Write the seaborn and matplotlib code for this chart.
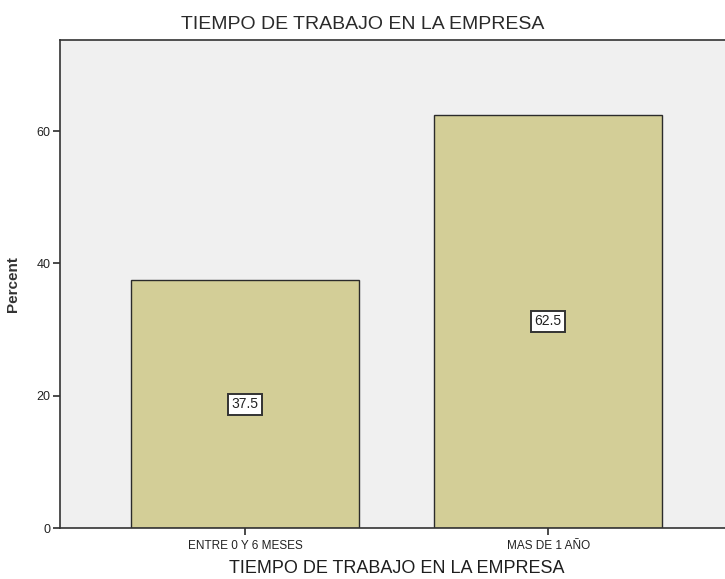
import pandas as pd
import seaborn as sns
import matplotlib.pyplot as plt

categories = ["ENTRE 0 Y 6 MESES", "MAS DE 1 AÑO"]
percents = [37.5, 62.5]
yticks = [0, 20, 40, 60]

df = pd.DataFrame({"Tiempo": categories, "Percent": percents})

sns.set_theme(style="ticks", rc={"axes.facecolor": "#f0f0f0", "figure.facecolor": "white"})
plt.rcParams["font.family"] = ["Liberation Sans", "DejaVu Sans"]

fig = plt.figure(figsize=(7.25, 5.79), dpi=100)
# plot area runs past the right edge, as in the original export
ax = fig.add_axes([0.083, 0.088, 0.928, 0.843])

sns.barplot(data=df, x="Tiempo", y="Percent", color="#d3ce97", width=0.75,
            edgecolor="#2b2b2b", linewidth=1.0, saturation=1, ax=ax)

for i, v in enumerate(percents):
    ax.text(i, v / 2, f"{v}", ha="center", va="center", fontsize=10, color="#222222",
            bbox=dict(boxstyle="square,pad=0.25", facecolor="white", edgecolor="#333333", linewidth=1.4))

ax.set_xlim(-0.61, 1.61)
ax.set_ylim(0, 73.8)
ax.set_yticks(yticks)
ax.set_yticklabels([str(t) for t in yticks], fontsize=9, color="#222222")
ax.tick_params(axis="x", labelsize=8.5, labelcolor="#222222", length=5, color="#333333")
ax.tick_params(axis="y", length=5, color="#333333", pad=2)
for side in ["left", "bottom", "top"]:
    ax.spines[side].set_color("#333333")
    ax.spines[side].set_linewidth(1.2)
ax.spines["right"].set_visible(False)

ax.set_xlabel("TIEMPO DE TRABAJO EN LA EMPRESA", fontsize=13, color="#1e1e1e", labelpad=6)
ax.set_ylabel("Percent", fontsize=11, fontweight="bold", color="#333333", labelpad=12)
fig.text(0.5, 0.957, "TIEMPO DE TRABAJO EN LA EMPRESA", ha="center", va="center",
         fontsize=14, color="#2a2a2a")

fig.savefig("out.png", dpi=100)
